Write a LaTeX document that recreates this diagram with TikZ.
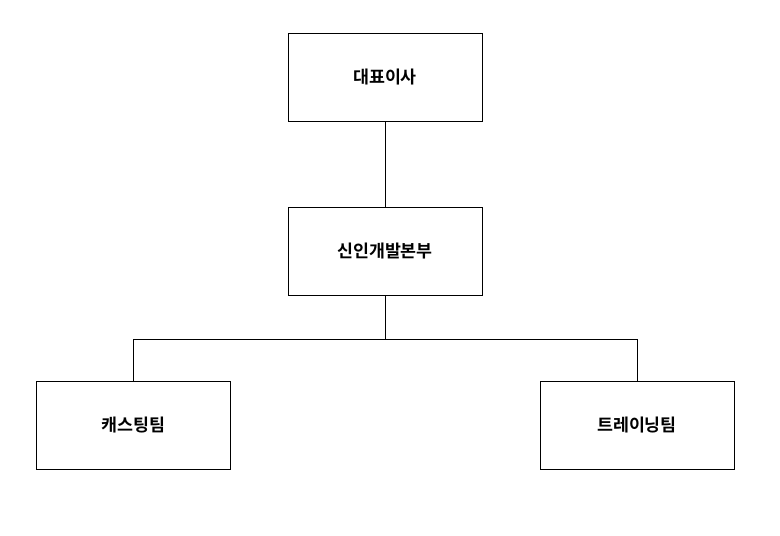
\documentclass[tikz,border=0pt]{standalone}
\usepackage{fontspec}
\newfontfamily\kr{Noto Sans CJK KR}[BoldFont={Noto Sans CJK KR Bold}]
\begin{document}
\begin{tikzpicture}[x=0.75pt,y=-0.75pt,
  box/.style={draw,line width=0.7pt,minimum width=194*0.75pt,minimum height=88*0.75pt,inner sep=0pt,font=\kr\bfseries\fontsize{13}{15}\selectfont},
  conn/.style={line width=0.6pt}]
\useasboundingbox (0,0) rectangle (780,535);
\node[box] (ceo) at (385,77) {대표이사};
\node[box] (dev) at (385,251) {신인개발본부};
\node[box] (cast) at (133.5,425) {캐스팅팀};
\node[box] (train) at (637,425) {트레이닝팀};
\coordinate (j) at (385,339);
\draw[conn] (ceo) -- (dev);
\draw[conn] (dev) -- (j);
\draw[conn] (cast.north) -- (cast.north |- j) -- (train.north |- j) -- (train.north);
\end{tikzpicture}
\end{document}
